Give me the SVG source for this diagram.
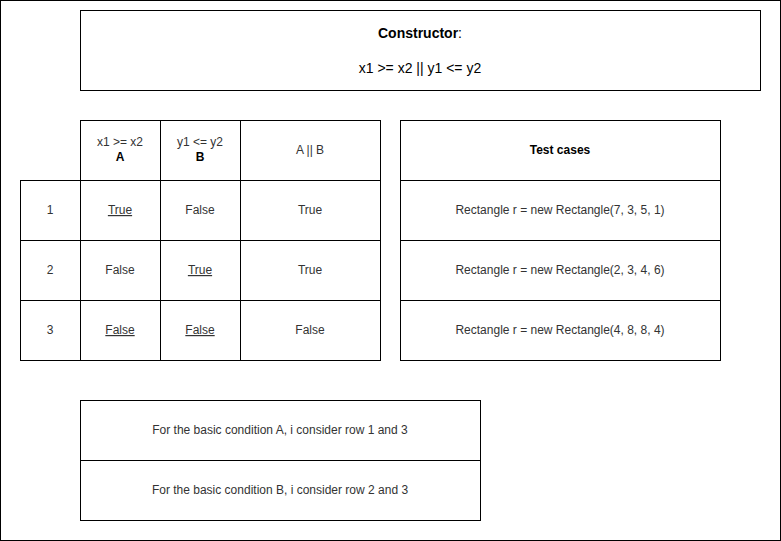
<svg xmlns="http://www.w3.org/2000/svg" width="781" height="541" viewBox="0 0 781 541">
<style>
.b{fill:#fff;stroke:#000;stroke-width:1}
.t{font-family:"Liberation Sans",Arial,sans-serif;font-size:12px;fill:#333;text-anchor:middle}
.h{font-family:"Liberation Sans",Arial,sans-serif;font-size:14px;fill:#000;text-anchor:middle}
.bd{font-weight:bold;fill:#000}
.u{text-decoration:underline}
</style>
<rect x="0.5" y="0.5" width="780" height="540" fill="#fff" stroke="#000"/>
<g id="constructor">
<rect class="b" x="80.5" y="10.5" width="680" height="80"/>
<text class="h" x="420" y="38"><tspan class="bd">Constructor</tspan>:</text>
<text class="h" x="420" y="73">x1 &gt;= x2 || y1 &lt;= y2</text>
</g>
<g id="truth-table">
<rect class="b" x="80.5" y="120.5" width="80" height="60"/>
<rect class="b" x="160.5" y="120.5" width="80" height="60"/>
<rect class="b" x="240.5" y="120.5" width="140" height="60"/>
<text class="t" x="120" y="146">x1 &gt;= x2</text>
<text class="t bd" x="120" y="161">A</text>
<text class="t" x="200" y="146">y1 &lt;= y2</text>
<text class="t bd" x="200" y="161">B</text>
<text class="t" x="310" y="154">A || B</text>
<rect class="b" x="20.5" y="180.5" width="60" height="60"/>
<rect class="b" x="80.5" y="180.5" width="80" height="60"/>
<rect class="b" x="160.5" y="180.5" width="80" height="60"/>
<rect class="b" x="240.5" y="180.5" width="140" height="60"/>
<text class="t" x="50" y="214">1</text>
<text class="t u" x="120" y="214">True</text>
<text class="t" x="200" y="214">False</text>
<text class="t" x="310" y="214">True</text>
<rect class="b" x="20.5" y="240.5" width="60" height="60"/>
<rect class="b" x="80.5" y="240.5" width="80" height="60"/>
<rect class="b" x="160.5" y="240.5" width="80" height="60"/>
<rect class="b" x="240.5" y="240.5" width="140" height="60"/>
<text class="t" x="50" y="274">2</text>
<text class="t" x="120" y="274">False</text>
<text class="t u" x="200" y="274">True</text>
<text class="t" x="310" y="274">True</text>
<rect class="b" x="20.5" y="300.5" width="60" height="60"/>
<rect class="b" x="80.5" y="300.5" width="80" height="60"/>
<rect class="b" x="160.5" y="300.5" width="80" height="60"/>
<rect class="b" x="240.5" y="300.5" width="140" height="60"/>
<text class="t" x="50" y="334">3</text>
<text class="t u" x="120" y="334">False</text>
<text class="t u" x="200" y="334">False</text>
<text class="t" x="310" y="334">False</text>
</g>
<g id="test-cases">
<rect class="b" x="400.5" y="120.5" width="320" height="60"/>
<rect class="b" x="400.5" y="180.5" width="320" height="60"/>
<rect class="b" x="400.5" y="240.5" width="320" height="60"/>
<rect class="b" x="400.5" y="300.5" width="320" height="60"/>
<text class="t bd" x="560" y="154">Test cases</text>
<text class="t" x="560" y="214">Rectangle r = new Rectangle(7, 3, 5, 1)</text>
<text class="t" x="560" y="274">Rectangle r = new Rectangle(2, 3, 4, 6)</text>
<text class="t" x="560" y="334">Rectangle r = new Rectangle(4, 8, 8, 4)</text>
</g>
<g id="notes">
<rect class="b" x="80.5" y="400.5" width="400" height="60"/>
<rect class="b" x="80.5" y="460.5" width="400" height="60"/>
<text class="t" x="280" y="434">For the basic condition A, i consider row 1 and 3</text>
<text class="t" x="280" y="494">For the basic condition B, i consider row 2 and 3</text>
</g>
<g id="connectors"></g>
</svg>
